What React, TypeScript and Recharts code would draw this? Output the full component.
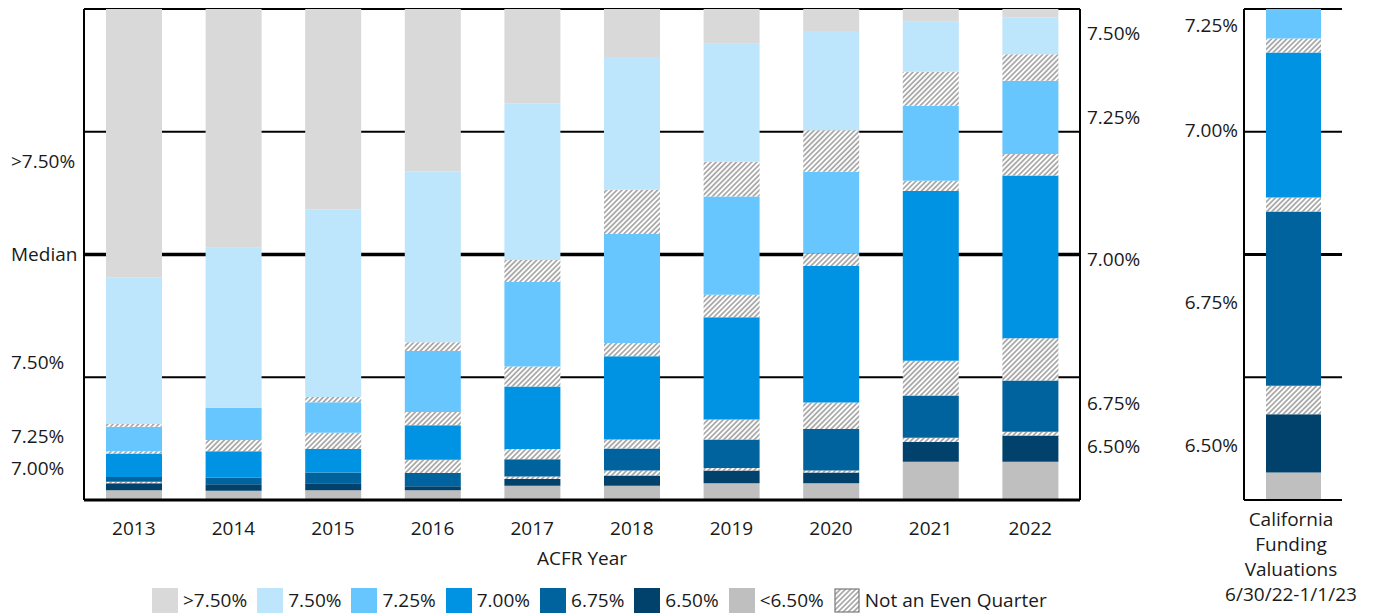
import React from 'react';
import { BarChart, Bar, XAxis, YAxis, ReferenceLine, Legend } from 'recharts';

// ---------- data ----------
const years = ['2013', '2014', '2015', '2016', '2017', '2018', '2019', '2020', '2021', '2022'];

// share of systems (%) by assumed rate, bottom to top
const lt650 = [2.0, 1.9, 2.0, 2.0, 2.9, 2.9, 3.4, 3.4, 7.8, 7.8];
const r650 = [1.4, 1.3, 1.4, 0.8, 1.4, 2.1, 2.6, 2.2, 4.0, 5.3];
const h1 = [0.3, 0, 0, 0, 0.5, 1.0, 0.5, 0.4, 0.9, 0.8]; // between 6.50 and 6.75
const r675 = [1.0, 1.35, 2.2, 2.7, 3.5, 4.5, 5.8, 8.5, 8.6, 10.4];
const h2 = [0, 0, 0, 2.7, 2.1, 1.8, 4.1, 5.4, 7.1, 8.6]; // between 6.75 and 7.00
const r700 = [4.75, 5.4, 4.8, 7.0, 12.7, 17.0, 20.8, 27.8, 34.6, 33.1];
const h3 = [0.45, 2.25, 3.3, 2.7, 4.1, 2.7, 4.6, 2.6, 2.1, 4.4]; // between 7.00 and 7.25
const r725 = [5.0, 6.6, 6.2, 12.4, 17.2, 22.2, 20.0, 16.6, 15.3, 14.9];
const h4 = [0.55, 0, 1.1, 1.8, 4.5, 9.0, 7.1, 8.5, 6.9, 5.4]; // between 7.25 and 7.50
const r750 = [29.9, 32.6, 38.2, 34.8, 31.9, 27.0, 24.0, 20.2, 10.2, 7.5];
const gt750 = [54.6, 48.6, 40.8, 33.0, 19.2, 9.8, 7.1, 4.5, 2.6, 1.7];

const californiaLabel = 'California Funding Valuations 6/30/22-1/1/23';
const californiaLines = ['California', 'Funding', 'Valuations', '6/30/22-1/1/23'];
const caLt650 = [5.6];
const caR650 = [11.9];
const caH1 = [5.8];
const caR675 = [35.5];
const caH2 = [2.85];
const caR700 = [29.6];
const caH3 = [2.85];
const caR725 = [6.0];
const caH4 = [0];
const caR750 = [0];
const caGt750 = [0];

// tick positions (share of systems, 0..1) and their labels
const quartiles = [0.25, 0.5, 0.75];
const leftTickValues = [0.69, 0.5, 0.28, 0.13, 0.0645];
const leftTickLabels = ['>7.50%', 'Median', '7.50%', '7.25%', '7.00%'];
const rightTickValues = [0.951, 0.78, 0.491, 0.198, 0.11];
const rightTickLabels = ['7.50%', '7.25%', '7.00%', '6.75%', '6.50%'];
const caTickValues = [0.967, 0.754, 0.402, 0.112];
const caTickLabels = ['7.25%', '7.00%', '6.75%', '6.50%'];

const legendLabels = ['>7.50%', '7.50%', '7.25%', '7.00%', '6.75%', '6.50%', '<6.50%', 'Not an Even Quarter'];

// ---------- styling ----------
const FONT = "'Open Sans', 'Noto Sans', sans-serif";
const FS = 19;
const TEXT = '#1a1a1a';
const C_GT750 = '#D9D9D9';
const C_750 = '#BDE5FC';
const C_725 = '#66C6FD';
const C_700 = '#0093E3';
const C_675 = '#00639E';
const C_650 = '#00426B';
const C_LT650 = '#BFBFBF';
const HATCH_LINE = '#8a8a8a';

const legendColors = [C_GT750, C_750, C_725, C_700, C_675, C_650, C_LT650, 'hatch'];

const seriesOrder = (hatchId: string) => [
  { key: 'lt650', fill: C_LT650 },
  { key: 'r650', fill: C_650 },
  { key: 'h1', fill: `url(#${hatchId})` },
  { key: 'r675', fill: C_675 },
  { key: 'h2', fill: `url(#${hatchId})` },
  { key: 'r700', fill: C_700 },
  { key: 'h3', fill: `url(#${hatchId})` },
  { key: 'r725', fill: C_725 },
  { key: 'h4', fill: `url(#${hatchId})` },
  { key: 'r750', fill: C_750 },
  { key: 'gt750', fill: C_GT750 },
];

const mainData = years.map((year, i) => ({
  year,
  lt650: lt650[i],
  r650: r650[i],
  h1: h1[i],
  r675: r675[i],
  h2: h2[i],
  r700: r700[i],
  h3: h3[i],
  r725: r725[i],
  h4: h4[i],
  r750: r750[i],
  gt750: gt750[i],
}));

const caData = [
  {
    name: californiaLabel,
    lt650: caLt650[0],
    r650: caR650[0],
    h1: caH1[0],
    r675: caR675[0],
    h2: caH2[0],
    r700: caR700[0],
    h3: caH3[0],
    r725: caR725[0],
    h4: caH4[0],
    r750: caR750[0],
    gt750: caGt750[0],
  },
];

const HatchDef = ({ id }: { id: string }) => (
  <defs>
    <pattern id={id} patternUnits="userSpaceOnUse" width={3.6} height={3.6} patternTransform="rotate(45)">
      <rect width={3.6} height={3.6} fill="#ffffff" />
      <line x1={1.8} y1={0} x2={1.8} y2={3.6} stroke={HATCH_LINE} strokeWidth={1.3} />
    </pattern>
  </defs>
);

const LeftTick = (props: any) => {
  const { y, payload } = props;
  const i = leftTickValues.indexOf(payload.value);
  return (
    <text x={11} y={y} dy="0.355em" textAnchor="start" fill={TEXT} fontSize={FS} fontFamily={FONT}>
      {i >= 0 ? leftTickLabels[i] : ''}
    </text>
  );
};

const rightFormatter = (v: number) => {
  const i = rightTickValues.indexOf(v);
  return i >= 0 ? rightTickLabels[i] : '';
};

const caFormatter = (v: number) => {
  const i = caTickValues.indexOf(v);
  return i >= 0 ? caTickLabels[i] : '';
};

const CaXTick = (props: any) => {
  const { x, y } = props;
  return (
    <text x={x - 2} y={y} textAnchor="middle" fill={TEXT} fontSize={FS} fontFamily={FONT}>
      {californiaLines.map((line, i) => (
        <tspan key={line} x={x - 2} dy={i === 0 ? 25.7 : 25}>
          {line}
        </tspan>
      ))}
    </text>
  );
};

const renderLegend = () => (
  <div
    style={{
      display: 'flex',
      alignItems: 'center',
      fontFamily: FONT,
      fontSize: FS,
      color: TEXT,
      whiteSpace: 'nowrap',
    }}
  >
    {legendLabels.map((label, i) => (
      <div key={label} style={{ display: 'flex', alignItems: 'center', marginRight: 10 }}>
        <svg width={26} height={25} style={{ display: 'block', marginRight: 5 }}>
          {legendColors[i] === 'hatch' ? (
            <>
              <defs>
                <pattern id="hatchLegend" patternUnits="userSpaceOnUse" width={3.6} height={3.6} patternTransform="rotate(45)">
                  <rect width={3.6} height={3.6} fill="#ffffff" />
                  <line x1={1.8} y1={0} x2={1.8} y2={3.6} stroke={HATCH_LINE} strokeWidth={1.3} />
                </pattern>
              </defs>
              <rect x={1} y={1} width={24} height={23} fill="url(#hatchLegend)" stroke="#7a7a7a" strokeWidth={1.2} />
            </>
          ) : (
            <rect x={0} y={0} width={26} height={25} fill={legendColors[i]} />
          )}
        </svg>
        <span style={{ lineHeight: '25px' }}>{label}</span>
      </div>
    ))}
  </div>
);

export default function App() {
  const mainSeries = seriesOrder('hatchMain');
  const caSeries = seriesOrder('hatchCa');
  return (
    <div style={{ position: 'absolute', left: 0, top: 0, width: 1377, height: 615, fontFamily: FONT, background: '#fff' }}>
      <div style={{ position: 'absolute', left: 0, top: 0 }}>
        <BarChart
          width={1160}
          height={615}
          data={mainData}
          stackOffset="expand"
          margin={{ top: 9, right: 0, bottom: 45, left: 0 }}
          barSize={56}
        >
          <HatchDef id="hatchMain" />
          <XAxis
            dataKey="year"
            tickLine={false}
            tickSize={0}
            tickMargin={21.5}
            height={70}
            axisLine={{ stroke: '#000', strokeWidth: 3 }}
            tick={{ fill: TEXT, fontSize: FS, fontFamily: FONT }}
            label={{ value: 'ACFR Year', position: 'insideBottom', offset: 5, fill: TEXT, fontSize: FS, fontFamily: FONT }}
          />
          <YAxis
            yAxisId="left"
            type="number"
            domain={[0, 1]}
            allowDataOverflow
            width={84}
            ticks={leftTickValues}
            interval={0}
            tickLine={false}
            tickSize={0}
            axisLine={{ stroke: '#000', strokeWidth: 2 }}
            tick={LeftTick}
          />
          <YAxis
            yAxisId="right"
            orientation="right"
            type="number"
            domain={[0, 1]}
            allowDataOverflow
            width={80}
            ticks={rightTickValues}
            interval={0}
            tickLine={false}
            tickSize={0}
            tickMargin={7}
            tickFormatter={rightFormatter}
            axisLine={{ stroke: '#000', strokeWidth: 2 }}
            tick={{ fill: TEXT, fontSize: FS, fontFamily: FONT, textAnchor: 'start' }}
          />
          {quartiles.map((q) => (
            <ReferenceLine
              key={q}
              yAxisId="left"
              y={q}
              stroke="#000"
              strokeWidth={q === 0.5 ? 3.5 : 2}
              zIndex={-10}
            />
          ))}
          <ReferenceLine yAxisId="left" y={1} stroke="#000" strokeWidth={2} zIndex={-10} />
          {mainSeries.map((s) => (
            <Bar
              key={s.key}
              dataKey={s.key}
              stackId="a"
              yAxisId="left"
              fill={s.fill}
              isAnimationActive={false}
              legendType="none"
            />
          ))}
          <Legend
            verticalAlign="middle"
            align="center"
            layout="horizontal"
            content={renderLegend}
            wrapperStyle={{ left: 152, top: 588, width: 'auto', height: 25 }}
          />
        </BarChart>
      </div>
      <div style={{ position: 'absolute', left: 1150, top: 0 }}>
        <BarChart
          width={227}
          height={615}
          data={caData}
          stackOffset="expand"
          margin={{ top: 9, right: 35, bottom: 15, left: 0 }}
          barSize={55}
        >
          <HatchDef id="hatchCa" />
          <XAxis
            dataKey="name"
            tickLine={false}
            tickSize={0}
            tickMargin={0}
            height={100}
            interval={0}
            axisLine={{ stroke: '#000', strokeWidth: 2 }}
            tick={CaXTick}
          />
          <YAxis
            yAxisId="left"
            type="number"
            domain={[0, 1]}
            allowDataOverflow
            width={94}
            ticks={caTickValues}
            interval={0}
            tickLine={false}
            tickSize={0}
            tickMargin={6}
            tickFormatter={caFormatter}
            axisLine={{ stroke: '#000', strokeWidth: 2 }}
            tick={{ fill: TEXT, fontSize: FS, fontFamily: FONT }}
          />
          <YAxis
            yAxisId="right"
            orientation="right"
            type="number"
            domain={[0, 1]}
            allowDataOverflow
            width={0}
            tick={false}
            tickLine={false}
            axisLine={{ stroke: '#000', strokeWidth: 2 }}
          />
          {quartiles.map((q) => (
            <ReferenceLine
              key={q}
              yAxisId="left"
              y={q}
              stroke="#000"
              strokeWidth={q === 0.5 ? 3 : 2}
              zIndex={-10}
            />
          ))}
          <ReferenceLine yAxisId="left" y={1} stroke="#000" strokeWidth={2} zIndex={-10} />
          {caSeries.map((s) => (
            <Bar
              key={s.key}
              dataKey={s.key}
              stackId="a"
              yAxisId="left"
              fill={s.fill}
              isAnimationActive={false}
              legendType="none"
            />
          ))}
        </BarChart>
      </div>
    </div>
  );
}
